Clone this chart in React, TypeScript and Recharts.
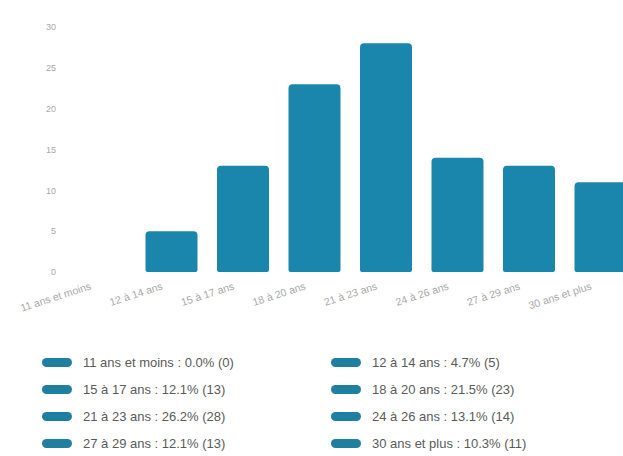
import React from "react";
import { BarChart, Bar, XAxis, YAxis, Legend } from "recharts";

const categories = [
  "11 ans et moins",
  "12 à 14 ans",
  "15 à 17 ans",
  "18 à 20 ans",
  "21 à 23 ans",
  "24 à 26 ans",
  "27 à 29 ans",
  "30 ans et plus",
];
const counts = [0, 5, 13, 23, 28, 14, 13, 11];
const percents = ["0.0%", "4.7%", "12.1%", "21.5%", "26.2%", "13.1%", "12.1%", "10.3%"];
const yTicks = [0, 5, 10, 15, 20, 25, 30];

const data = categories.map((c, i) => ({ name: c, value: counts[i], pct: percents[i] }));

const BAR_COLOR = "#1b86ab";
const FONT = "'Liberation Sans', Arial, sans-serif";

const XTick = (props: any) => {
  const { x, y, payload } = props;
  const ax = x - 8;
  const ay = y + 9;
  return (
    <text
      x={ax}
      y={ay}
      transform={`rotate(-18, ${ax}, ${ay})`}
      textAnchor="end"
      fontSize={10.5}
      fill="#a8a8a8"
      fontFamily={FONT}
    >
      {payload.value}
    </text>
  );
};

const LegendContent = () => (
  <div
    style={{
      height: 110,
      boxSizing: "border-box",
      paddingTop: 37,
      paddingLeft: 42,
      display: "grid",
      gridTemplateColumns: "289px 289px",
      gridAutoRows: "27px",
      fontFamily: FONT,
      fontSize: 13,
      color: "#5a5a5a",
    }}
  >
    {data.map((d) => (
      <div key={d.name} style={{ display: "flex", alignItems: "center", height: 27 }}>
        <span
          style={{
            display: "inline-block",
            width: 30,
            height: 9,
            borderRadius: 5,
            background: "#1f7f9f",
            marginRight: 11,
            flexShrink: 0,
          }}
        />
        <span style={{ whiteSpace: "nowrap" }}>{`${d.name} : ${d.pct} (${d.value})`}</span>
      </div>
    ))}
  </div>
);

export default function App() {
  return (
    <div
      style={{
        position: "absolute",
        left: 0,
        top: 0,
        width: 623,
        height: 456,
        overflow: "hidden",
        background: "#fff",
      }}
    >
      <BarChart
        width={640}
        height={456}
        data={data}
        margin={{ top: 27, right: 4, left: 44, bottom: 34 }}
      >
        <XAxis
          dataKey="name"
          axisLine={false}
          tickLine={false}
          interval={0}
          height={40}
          tick={<XTick />}
        />
        <YAxis
          width={20}
          domain={[0, 30]}
          ticks={yTicks}
          axisLine={false}
          tickLine={false}
          tick={{ fontSize: 9, fill: "#a8a8a8", fontFamily: FONT }}
        />
        <Legend
          verticalAlign="bottom"
          content={<LegendContent />}
          wrapperStyle={{ left: 0, width: 623 }}
        />
        <Bar
          dataKey="value"
          fill={BAR_COLOR}
          barSize={52}
          radius={[4, 4, 2, 2]}
          isAnimationActive={false}
        />
      </BarChart>
    </div>
  );
}
